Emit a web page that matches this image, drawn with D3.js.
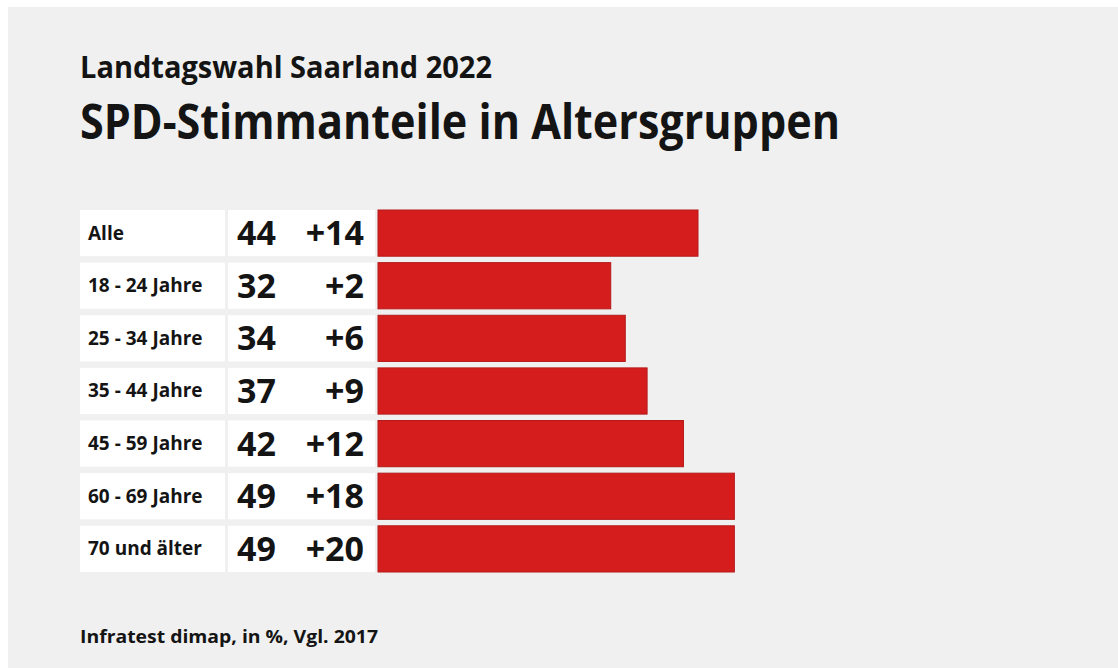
<!DOCTYPE html>
<html>
<head>
<meta charset="utf-8">
<script src="https://cdn.jsdelivr.net/npm/d3@7"></script>
<style>
  body { margin: 0; background: #fff; }
  svg { display: block; }
  text { font-family: "Open Sans", "Noto Sans", sans-serif; fill: #141414; }
</style>
</head>
<body>
<svg id="chart"></svg>
<script>
// data
let categories = ["Alle", "18 - 24 Jahre", "25 - 34 Jahre", "35 - 44 Jahre", "45 - 59 Jahre", "60 - 69 Jahre", "70 und älter"];
let shares = [44, 32, 34, 37, 42, 49, 49]; // SPD share in %
let changes = [14, 2, 6, 9, 12, 18, 20]; // change vs. 2017

let width = 1118;
let height = 668;

let svg = d3.select("#chart").attr("width", width).attr("height", height);

// gray panel
svg.append("rect")
  .attr("x", 8).attr("y", 7)
  .attr("width", width - 8).attr("height", height - 7)
  .attr("fill", "#f0f0f0");

// fit a text to a given width
let fit = (sel, w) => {
  sel.attr("textLength", w).attr("lengthAdjust", "spacingAndGlyphs");
};

svg.append("text")
  .attr("x", 80).attr("y", 78)
  .style("font-size", "30px").style("font-weight", 700)
  .text("Landtagswahl Saarland 2022")
  .call(fit, 412);

svg.append("text")
  .attr("x", 80).attr("y", 139)
  .style("font-size", "49px").style("font-weight", 700)
  .text("SPD-Stimmanteile in Altersgruppen")
  .call(fit, 760);

let rows = categories.map((c, i) => ({ cat: c, share: shares[i], change: changes[i] }));

let yScale = d3.scaleBand()
  .domain(categories)
  .range([210, 572])
  .paddingInner(0.122);

let barStart = 378;
let xScale = d3.scaleLinear()
  .domain([0, 44])
  .range([barStart, 698]);

let bh = yScale.bandwidth();

let row = svg.selectAll(".row")
  .data(rows)
  .enter()
  .append("g")
  .attr("class", "row")
  .attr("transform", (d) => "translate(0," + yScale(d.cat) + ")");

// label cell
row.append("rect")
  .attr("x", 80).attr("width", 145)
  .attr("height", bh)
  .attr("fill", "#fff");

// value cell
row.append("rect")
  .attr("x", 228).attr("width", 147)
  .attr("height", bh)
  .attr("fill", "#fff");

// bars
row.append("rect")
  .attr("x", xScale(0))
  .attr("width", (d) => xScale(d.share) - xScale(0))
  .attr("height", bh)
  .attr("fill", "#d61d1d")
  .attr("stroke", "#b51a1a")
  .attr("stroke-width", 1);

row.append("text")
  .attr("x", 88).attr("y", bh / 2 + 6.5)
  .style("font-size", "19px").style("font-weight", 700)
  .text((d) => d.cat);

row.append("text")
  .attr("x", 237).attr("y", bh / 2 + 12)
  .style("font-size", "34px").style("font-weight", 700)
  .text((d) => d.share);

row.append("text")
  .attr("x", 364).attr("y", bh / 2 + 12)
  .attr("text-anchor", "end")
  .style("font-size", "34px").style("font-weight", 700)
  .text((d) => "+" + d.change);

svg.append("text")
  .attr("x", 80).attr("y", 643)
  .style("font-size", "18px").style("font-weight", 700)
  .text("Infratest dimap, in %, Vgl. 2017")
  .call(fit, 298);
</script>
</body>
</html>
